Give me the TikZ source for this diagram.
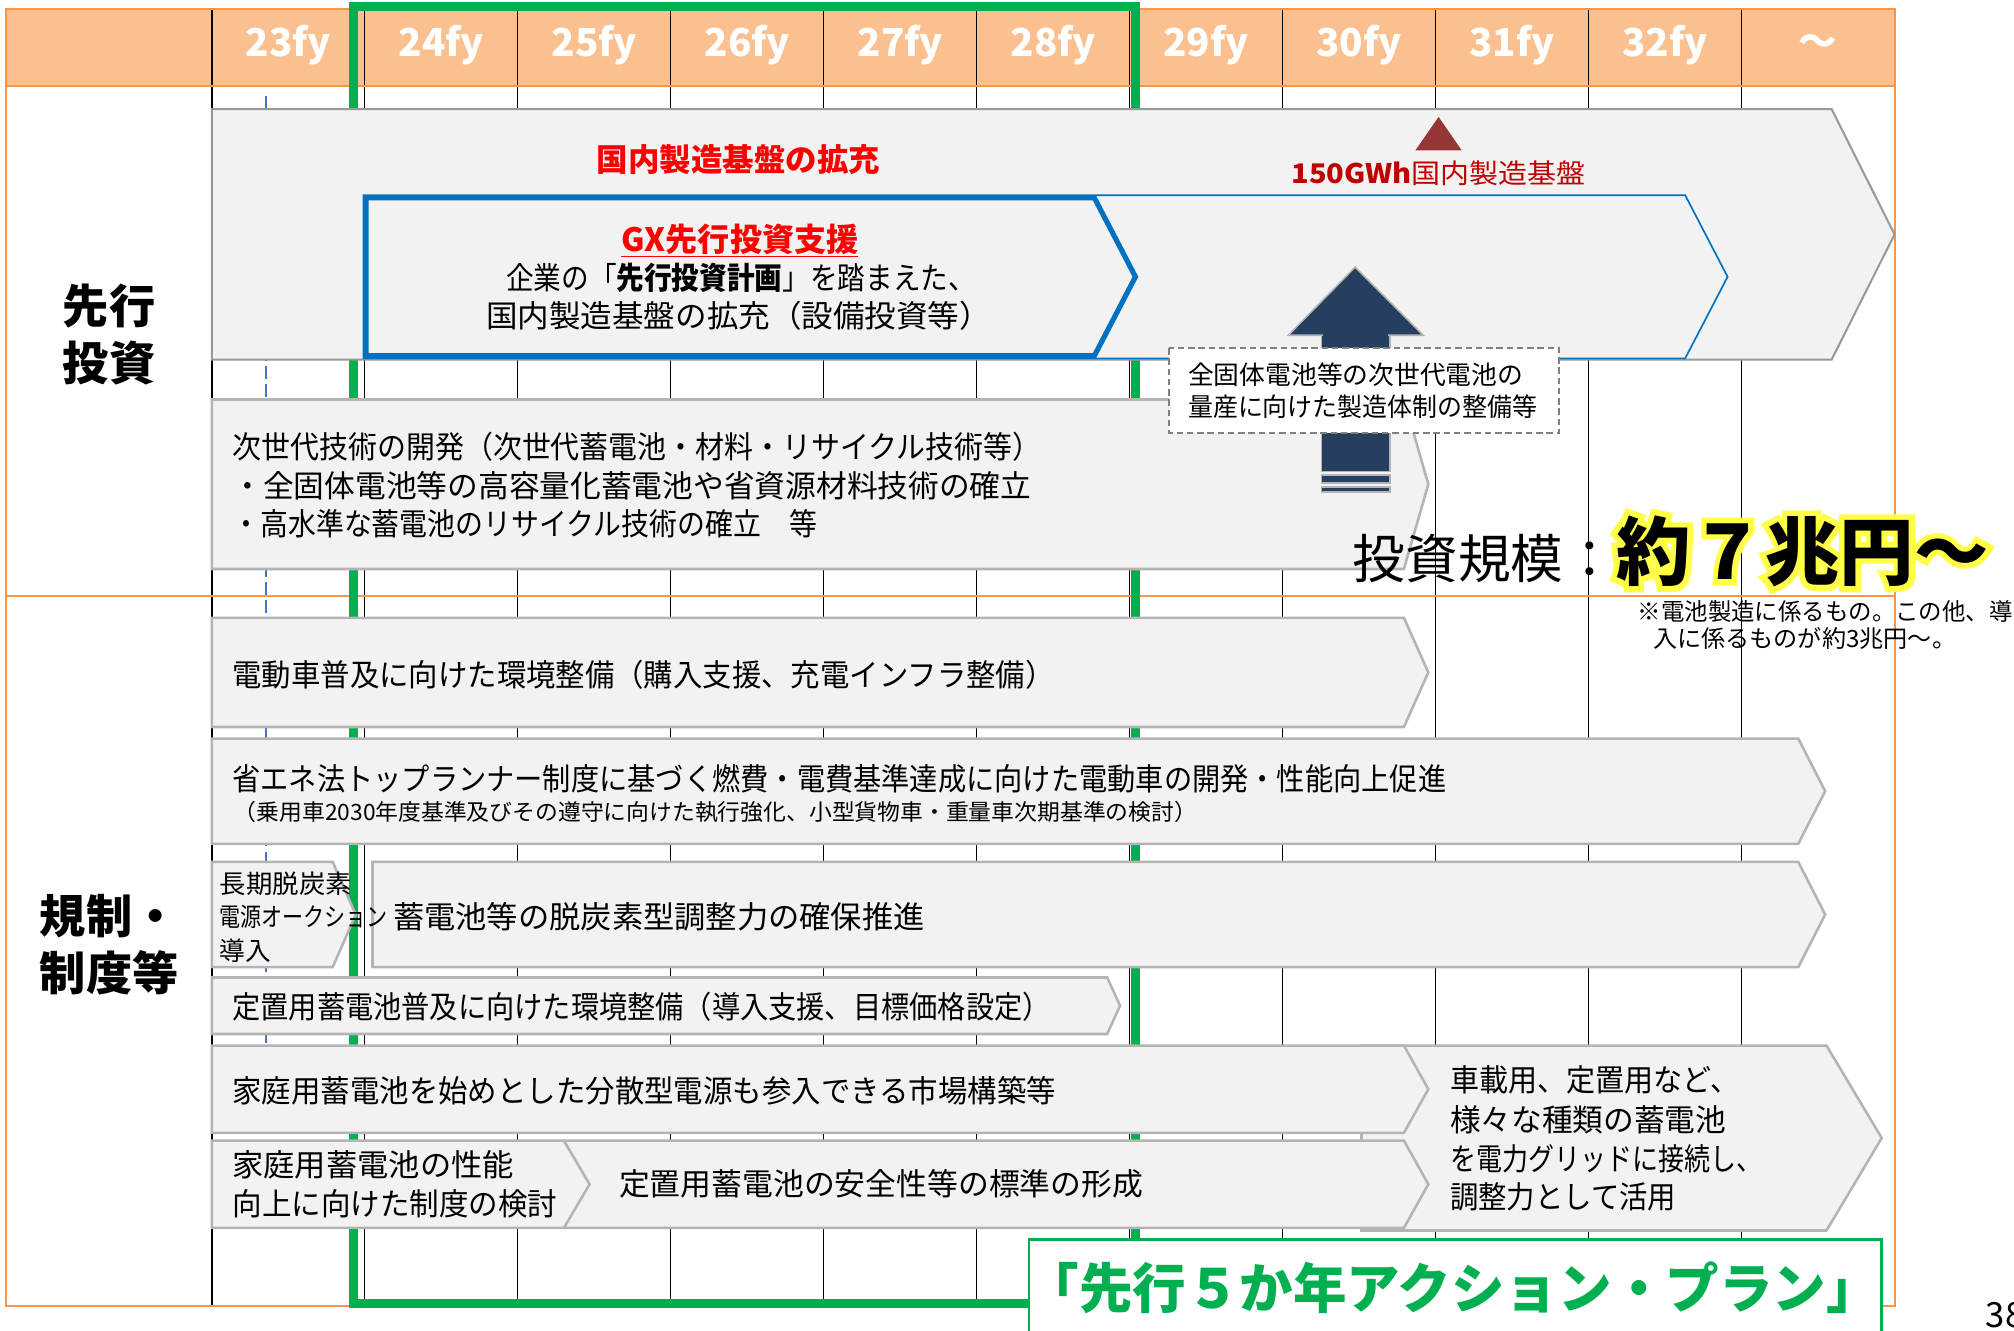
\documentclass[tikz,border=0pt]{standalone}
\usepackage{fontspec}
\usepackage{graphicx}
\setmainfont{Noto Sans CJK JP}
\newfontfamily\glowfont{Noto Sans CJK JP Bold}[FakeBold=17]
\definecolor{hdr}{RGB}{250,192,144}
\definecolor{org}{RGB}{247,150,70}
\definecolor{grn}{RGB}{0,176,80}
\definecolor{bfill}{RGB}{242,242,242}
\definecolor{bline}{RGB}{180,180,180}
\definecolor{blu}{RGB}{0,112,192}
\definecolor{dblue}{RGB}{68,114,196}
\definecolor{navy}{RGB}{38,62,96}
\definecolor{brick}{RGB}{149,55,53}
\definecolor{dred}{RGB}{192,0,0}
\definecolor{glow}{RGB}{255,255,70}
\newcommand\fs[1]{\fontsize{#1pt}{#1pt}\selectfont}
\newcommand\rw[2]{\resizebox{#1pt}{\height}{#2}}
\newcommand\chev[6]{\path[#1] (#2,#3) -- (#4,#3) -- (#5,{(#3+#6)/2}) -- (#4,#6) -- (#2,#6) -- cycle;}
\begin{document}
\begin{tikzpicture}[x=1pt,y=-1pt,
  box/.style={fill=bfill,draw=bline,line width=2pt,line join=miter},
  tl/.style={inner sep=0pt,outer sep=0pt,anchor=west},
  tc/.style={inner sep=0pt,outer sep=0pt,anchor=center}]
\useasboundingbox (0,0) rectangle (1568,1036);
\fill[white] (0,0) rectangle (1568,1036);
% header and grid
\fill[hdr] (5,7) rectangle (1475,67);
\foreach \k in {0,...,10} \draw[black,line width=0.9pt] ({165+119.1*\k},7) -- ({165+119.1*\k},1017);
\draw[org,line width=1.6pt] (5,7) rectangle (1475,1017);
\draw[org,line width=1.6pt] (5,67) -- (1475,67);
\draw[org,line width=1.6pt] (5,464) -- (1475,464);
\foreach \lab [count=\i from 0] in {23fy,24fy,25fy,26fy,27fy,28fy,29fy,30fy,31fy,32fy,～}
  \node[tc,text=white,font=\fs{30}\bfseries] (h\i) at ({165+119.1*(\i+0.5)},35) {\lab};
% dashed marker and green frame
\draw[dblue,line width=1.2pt,dash pattern=on 10pt off 4pt] (207,75) -- (207,812);
\draw[grn,line width=7pt] (275,5) rectangle (884,1015);
% section labels
\node[tc,font=\fs{36}\bfseries] (s1a) at (85,238) {先行};
\node[tc,font=\fs{36}\bfseries] (s1b) at (85,283) {投資};
\node[tc,font=\fs{36}\bfseries] (s2a) at (85,713) {規制・};
\node[tc,font=\fs{36}\bfseries] (s2b) at (85,757) {制度等};
% upper section
\chev{box,draw=bline!85!black,line width=1.6pt}{165}{85}{1426}{1475}{280}
\node[tc,text=red,font=\fs{24.5}\bfseries] (t1) at (575,124) {国内製造基盤の拡充};
\fill[brick] (1120,91) -- (1138,117) -- (1102,117) -- cycle;
\node[tc,text=dred,font=\fs{21}] (t2) at (1120,135) {\rw{229}{\textbf{150GWh}国内製造基盤}};
\chev{fill=bfill,draw=blu,line width=1.3pt}{283}{152}{1312}{1345}{279}
\chev{fill=bfill,draw=blu,line width=4pt,line join=miter}{285}{154}{852}{884}{277}
\node[tc,text=red,font=\fs{25}\bfseries] (gx) at (576,187) {\underline{GX先行投資支援}};
\node[tc,font=\fs{24}] (gx2) at (577,216) {\rw{366}{企業の「\textbf{先行投資計画}」を踏まえた、}};
\node[tc,font=\fs{24}] (gx3) at (575,246) {\rw{393}{国内製造基盤の拡充（設備投資等）}};
\chev{box}{165}{311}{1093}{1112}{443}
\node[tl,font=\fs{24}] (d1) at (181,348) {\rw{630}{次世代技術の開発（次世代蓄電池・材料・リサイクル技術等）}};
\node[tl,font=\fs{24}] (d2) at (181,378) {\rw{622}{・全固体電池等の高容量化蓄電池や省資源材料技術の確立}};
\node[tl,font=\fs{24}] (d3) at (181,408) {\rw{455}{・高水準な蓄電池のリサイクル技術の確立　等}};
% navy arrow
\path[fill=navy,draw=bline,line width=1.2pt] (1029,255) rectangle (1082,367);
\path[fill=navy,draw=bline,line width=1.2pt] (1029,370) rectangle (1082,376);
\path[fill=navy,draw=bline,line width=1.2pt] (1029,379) rectangle (1082,383);
\path[fill=navy,draw=bline,line width=1.2pt,line join=miter] (1055,208) -- (1108,261) -- (1003,261) -- cycle;
\path[fill=navy] (1030,258) rectangle (1081,263);
% dashed box
\path[fill=white,draw=gray,line width=1.3pt,dash pattern=on 5pt off 3pt] (910,271) rectangle (1214,337);
\node[tl,font=\fs{20}] (db1) at (925,292) {\rw{261}{全固体電池等の次世代電池の}};
\node[tl,font=\fs{20}] (db2) at (925,317) {\rw{272}{量産に向けた製造体制の整備等}};
% investment scale
\node[anchor=base west,inner sep=0pt,text=glow,font=\glowfont\fs{58}] (glowtxt) at (1258,451) {約７兆円～};
\node[anchor=base west,inner sep=0pt,font=\fs{41}] (amtlab) at (1053,450) {投資規模：};
\node[anchor=base west,inner sep=0pt,font=\fs{58}\bfseries] (amt) at (1258,451) {約７兆円～};
\node[tl,font=\fs{18.5}] (n1) at (1275,476) {\rw{292}{※電池製造に係るもの。この他、導}};
\node[tl,font=\fs{18.5}] (n2) at (1287,497) {\rw{236}{入に係るものが約3兆円～。}};
% lower section
\chev{box}{165}{481}{1093}{1112}{566}
\node[tl,font=\fs{24}] (e1) at (181,525) {\rw{640}{電動車普及に向けた環境整備（購入支援、充電インフラ整備）}};
\chev{box}{165}{575}{1400}{1421}{657}
\node[tl,font=\fs{24}] (f1) at (181,606) {\rw{945}{省エネ法トップランナー制度に基づく燃費・電費基準達成に向けた電動車の開発・性能向上促進}};
\node[tl,font=\fs{17.5}] (f2) at (182,632) {\rw{750}{（乗用車2030年度基準及びその遵守に向けた執行強化、小型貨物車・重量車次期基準の検討）}};
\chev{box}{290}{671}{1400}{1421}{753}
\node[tl,font=\fs{24}] (g1) at (306,714) {\rw{414}{蓄電池等の脱炭素型調整力の確保推進}};
\chev{box}{165}{671}{259}{277}{753}
\node[tl,font=\fs{20}] (k1) at (171,688) {\rw{103}{長期脱炭素}};
\node[tl,font=\fs{20}] (k2) at (171,714) {\rw{131}{電源オークション}};
\node[tl,font=\fs{20}] (k3) at (171,740) {\rw{40}{導入}};
\chev{box}{165}{761}{862}{872}{805}
\node[tl,font=\fs{24}] (i1) at (181,784) {\rw{637}{定置用蓄電池普及に向けた環境整備（導入支援、目標価格設定）}};
\chev{box}{1060}{814}{1422}{1465}{958}
\node[tl,font=\fs{24}] (j1) at (1129,841) {\rw{225}{車載用、定置用など、}};
\node[tl,font=\fs{24}] (j2) at (1129,872) {\rw{215}{様々な種類の蓄電池}};
\node[tl,font=\fs{24}] (j3) at (1129,902) {\rw{243}{を電力グリッドに接続し、}};
\node[tl,font=\fs{24}] (j4) at (1129,932) {\rw{176}{調整力として活用}};
\chev{box}{165}{814}{1093}{1112}{882}
\node[tl,font=\fs{24}] (m1) at (181,849) {\rw{641}{家庭用蓄電池を始めとした分散型電源も参入できる市場構築等}};
\chev{box}{440}{888}{1093}{1112}{956}
\node[tl,font=\fs{24}] (l1) at (482,922) {\rw{408}{定置用蓄電池の安全性等の標準の形成}};
\chev{box}{165}{888}{439}{459}{956}
\node[tl,font=\fs{24}] (p1) at (181,907) {\rw{219}{家庭用蓄電池の性能}};
\node[tl,font=\fs{24}] (p2) at (181,937) {\rw{253}{向上に向けた制度の検討}};
% plan label
\path[fill=white,draw=grn,line width=2pt] (801,965) rectangle (1465,1045);
\node[tc,text=grn,font=\fs{42}\bfseries] (plan) at (1131,1003) {\rw{665}{「先行５か年アクション・プラン」}};
\node[tl,font=\fs{27}] (pg) at (1546,1024) {38};
\end{tikzpicture}
\end{document}
